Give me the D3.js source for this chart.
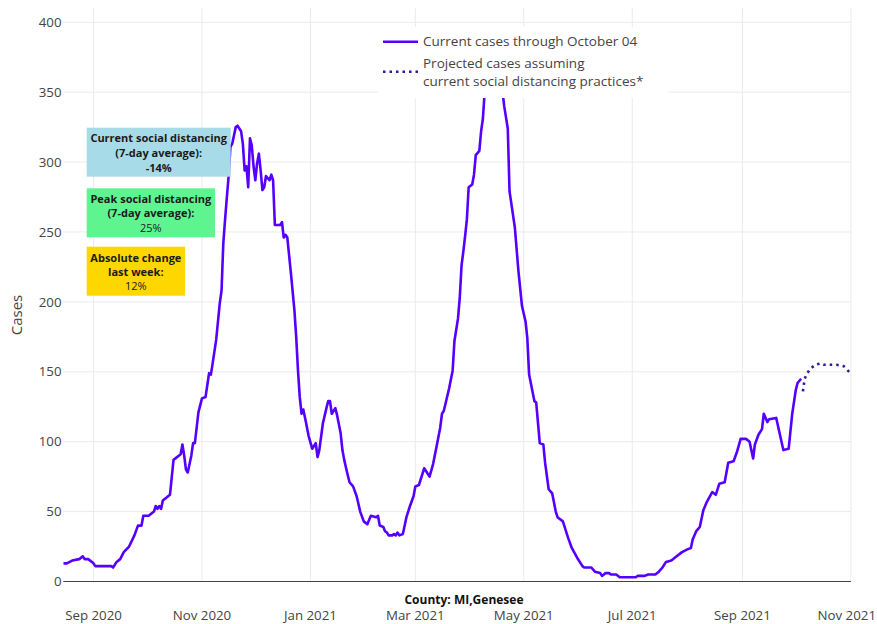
<!DOCTYPE html>
<html><head><meta charset="utf-8">
<script src="https://cdn.jsdelivr.net/npm/d3@7"></script>
<style>
body{margin:0;background:#fff;}
svg{display:block;font-family:"Open Sans",sans-serif;}
</style>
</head><body>
<svg id="chart" width="877" height="624"></svg>
<script>
// ---- data ----
const dates = ["2020-08-15","2020-08-17","2020-08-20","2020-08-24","2020-08-26","2020-08-27","2020-08-29","2020-09-01","2020-09-02","2020-09-11","2020-09-12","2020-09-14","2020-09-16","2020-09-18","2020-09-21","2020-09-24","2020-09-26","2020-09-28","2020-09-29","2020-10-02","2020-10-05","2020-10-06","2020-10-07","2020-10-08","2020-10-09","2020-10-10","2020-10-14","2020-10-16","2020-10-20","2020-10-21","2020-10-22","2020-10-23","2020-10-24","2020-10-26","2020-10-27","2020-10-28","2020-10-30","2020-11-01","2020-11-03","2020-11-05","2020-11-06","2020-11-07","2020-11-09","2020-11-11","2020-11-12","2020-11-13","2020-11-14","2020-11-15","2020-11-16","2020-11-17","2020-11-18","2020-11-20","2020-11-21","2020-11-23","2020-11-24","2020-11-25","2020-11-26","2020-11-27","2020-11-28","2020-11-29","2020-11-30","2020-12-01","2020-12-02","2020-12-03","2020-12-04","2020-12-05","2020-12-06","2020-12-07","2020-12-09","2020-12-10","2020-12-11","2020-12-12","2020-12-15","2020-12-16","2020-12-17","2020-12-18","2020-12-19","2020-12-21","2020-12-23","2020-12-24","2020-12-25","2020-12-26","2020-12-27","2020-12-28","2020-12-29","2020-12-31","2021-01-02","2021-01-04","2021-01-05","2021-01-06","2021-01-08","2021-01-10","2021-01-11","2021-01-12","2021-01-13","2021-01-15","2021-01-16","2021-01-18","2021-01-19","2021-01-20","2021-01-22","2021-01-23","2021-01-25","2021-01-27","2021-01-29","2021-01-31","2021-02-02","2021-02-04","2021-02-07","2021-02-08","2021-02-09","2021-02-11","2021-02-12","2021-02-13","2021-02-14","2021-02-16","2021-02-17","2021-02-18","2021-02-19","2021-02-20","2021-02-22","2021-02-24","2021-02-26","2021-02-28","2021-03-01","2021-03-03","2021-03-06","2021-03-07","2021-03-09","2021-03-11","2021-03-13","2021-03-15","2021-03-16","2021-03-17","2021-03-20","2021-03-22","2021-03-23","2021-03-25","2021-03-26","2021-03-27","2021-03-28","2021-03-29","2021-03-30","2021-03-31","2021-04-02","2021-04-03","2021-04-04","2021-04-06","2021-04-07","2021-04-08","2021-04-09","2021-04-10","2021-04-12","2021-04-14","2021-04-16","2021-04-18","2021-04-20","2021-04-22","2021-04-23","2021-04-26","2021-04-28","2021-04-30","2021-05-02","2021-05-03","2021-05-04","2021-05-07","2021-05-08","2021-05-10","2021-05-12","2021-05-13","2021-05-15","2021-05-17","2021-05-19","2021-05-20","2021-05-23","2021-05-25","2021-05-26","2021-05-28","2021-05-31","2021-06-03","2021-06-04","2021-06-08","2021-06-10","2021-06-13","2021-06-14","2021-06-16","2021-06-18","2021-06-19","2021-06-22","2021-06-24","2021-07-03","2021-07-04","2021-07-08","2021-07-10","2021-07-14","2021-07-16","2021-07-18","2021-07-20","2021-07-23","2021-07-26","2021-07-29","2021-08-01","2021-08-03","2021-08-04","2021-08-06","2021-08-08","2021-08-10","2021-08-12","2021-08-15","2021-08-17","2021-08-19","2021-08-22","2021-08-24","2021-08-27","2021-08-29","2021-08-31","2021-09-03","2021-09-05","2021-09-07","2021-09-08","2021-09-10","2021-09-12","2021-09-13","2021-09-15","2021-09-16","2021-09-20","2021-09-24","2021-09-27","2021-09-29","2021-10-01","2021-10-02","2021-10-04"];
const cases = [13,13,15,16,18,16,16,13,11,11,10,14,16,21,25,33,40,40,47,47,50,54,52,54,52,58,62,87,91,98,90,80,78,90,99,99,121,131,132,149,148,156,173,199,208,242,259,275,290,311,313,325,326,322,313,294,297,282,317,312,297,287,299,306,294,280,282,290,287,291,287,255,255,257,246,248,246,221,194,175,151,132,120,123,117,104,95,99,89,94,113,124,129,129,120,124,119,106,94,87,76,71,68,61,50,43,41,47,46,47,40,39,36,35,33,33,34,33,35,33,34,46,54,61,68,69,81,79,75,84,97,110,120,122,138,151,172,188,203,226,236,247,259,282,284,291,305,308,322,331,350,366,380,386,378,362,340,324,279,253,222,197,186,174,148,129,128,99,98,85,66,63,50,46,43,35,31,24,17,11,10,10,7,6,4,6,6,5,5,3,3,4,4,5,5,7,10,14,15,18,21,23,24,30,36,39,51,57,64,62,70,71,85,86,93,102,102,100,88,98,105,109,120,114,116,117,94,95,120,137,142,145];
const projDates = ["2021-10-05","2021-10-06","2021-10-07","2021-10-09","2021-10-12","2021-10-15","2021-10-17","2021-10-20","2021-10-24","2021-10-28","2021-10-31"];
const projCases = [136,145,148,152,155,156,155,155,155,154,150];
const xTickDates = ["2020-09-01","2020-11-01","2021-01-01","2021-03-01","2021-05-01","2021-07-01","2021-09-01","2021-11-01"];
const xTickLabels = ["Sep 2020","Nov 2020","Jan 2021","Mar 2021","May 2021","Jul 2021","Sep 2021","Nov 2021"];
const yTicks = [0,50,100,150,200,250,300,350,400];
const legendLabels = [["Current cases through October 04"],["Projected cases assuming","current social distancing practices*"]];
const boxLines = [
  [["Current social distancing",true],["(7-day average):",true],["-14%",true]],
  [["Peak social distancing",true],["(7-day average):",true],["25%",false]],
  [["Absolute change",true],["last week:",true],["12%",false]]
];
const boxColors = ["#a8dbe8","#5ef590","#ffd700"];
const countyLabel = "County: MI,Genesee";
const yTitle = "Cases";

// ---- drawing ----
const parse = d3.utcParse("%Y-%m-%d");
const svg = d3.select("#chart");
const L = 63.3, R = 850.9, T = 8, B = 581.5;
const x = d3.scaleUtc().domain([parse("2020-08-15"), parse("2021-11-01")]).range([L, R]);
const y = d3.scaleLinear().domain([0, 410.2]).range([B, T]);

const grid = svg.append("g");
grid.selectAll(".hg").data(yTicks.filter(v => v > 0)).join("line")
  .attr("x1", L).attr("x2", R).attr("y1", d => y(d)).attr("y2", d => y(d))
  .attr("stroke", "#ebebeb").attr("stroke-width", 1);
grid.selectAll(".vg").data(xTickDates).join("line")
  .attr("x1", d => x(parse(d))).attr("x2", d => x(parse(d))).attr("y1", T).attr("y2", B)
  .attr("stroke", "#ebebeb").attr("stroke-width", 1);

// y tick labels
svg.append("g").selectAll("text").data(yTicks).join("text")
  .attr("x", 61.5).attr("y", d => y(d)).attr("dy", "0.35em")
  .attr("text-anchor", "end").attr("font-size", "13.3px").attr("fill", "#444")
  .text(d => d);
// x tick labels (last one kept inside the page edge)
svg.append("g").selectAll("text").data(xTickDates).join("text")
  .attr("x", (d, i) => i === xTickDates.length - 1 ? 876 : x(parse(d)))
  .attr("y", 615).attr("dy", "0.35em")
  .attr("text-anchor", (d, i) => i === xTickDates.length - 1 ? "end" : "middle")
  .attr("font-size", "13.3px").attr("fill", "#444")
  .text((d, i) => xTickLabels[i]);

svg.append("defs").append("clipPath").attr("id", "clip")
  .append("rect").attr("x", L).attr("y", T).attr("width", R - L).attr("height", B - T);

const line = d3.line().x(d => x(d[0])).y(d => y(d[1]));
const series = dates.map((d, i) => [parse(d), cases[i]]);
const proj = projDates.map((d, i) => [parse(d), projCases[i]]);

const plot = svg.append("g").attr("clip-path", "url(#clip)");
plot.append("path").datum(series).attr("d", line)
  .attr("fill", "none").attr("stroke", "#5500ff").attr("stroke-width", 2.6)
  .attr("stroke-linejoin", "round");
plot.append("path").datum(proj).attr("d", line)
  .attr("fill", "none").attr("stroke", "#2e1a9a").attr("stroke-width", 2.6)
  .attr("stroke-dasharray", "2.5,4");

// zero line
svg.append("line").attr("x1", L).attr("x2", R).attr("y1", y(0)).attr("y2", y(0))
  .attr("stroke", "#444").attr("stroke-width", 1.2);

// y title
svg.append("text").attr("transform", "translate(17,315) rotate(-90)")
  .attr("text-anchor", "middle").attr("dy", "0.35em")
  .attr("font-size", "15px").attr("fill", "#444").text(yTitle);

// county label
svg.append("text").attr("x", 464).attr("y", 599.5).attr("dy", "0.35em")
  .attr("text-anchor", "middle").attr("font-size", "12px").attr("font-weight", "bold")
  .attr("fill", "#111").text(countyLabel);

// legend
const lg = svg.append("g");
lg.append("rect").attr("x", 378).attr("y", 27).attr("width", 290).attr("height", 71).attr("fill", "#fff");
lg.append("line").attr("x1", 383).attr("x2", 418).attr("y1", 41.7).attr("y2", 41.7)
  .attr("stroke", "#5500ff").attr("stroke-width", 2.6);
lg.append("line").attr("x1", 383).attr("x2", 418).attr("y1", 71.7).attr("y2", 71.7)
  .attr("stroke", "#2e1a9a").attr("stroke-width", 2.6).attr("stroke-dasharray", "2.5,4");
const legendY = [[41.7],[63.3, 81.7]];
legendLabels.forEach((lines, i) => {
  lines.forEach((t, j) => {
    lg.append("text").attr("x", 423).attr("y", legendY[i][j]).attr("dy", "0.35em")
      .attr("font-size", "13.5px").attr("fill", "#444").text(t);
  });
});

// annotation boxes
const boxGeom = [
  {x: 86.7, y: 127.7, w: 144, h: 49, ly: [138.3, 153.3, 167.7]},
  {x: 86.7, y: 188.3, w: 128.3, h: 49, ly: [199, 213.5, 228.3]},
  {x: 86.7, y: 246.7, w: 98.3, h: 49, ly: [257.7, 271.9, 286]}
];
boxLines.forEach((lines, i) => {
  const g = boxGeom[i];
  svg.append("rect").attr("x", g.x).attr("y", g.y).attr("width", g.w).attr("height", g.h)
    .attr("fill", boxColors[i]);
  lines.forEach((ln, j) => {
    svg.append("text").attr("x", g.x + g.w / 2).attr("y", g.ly[j]).attr("dy", "0.35em")
      .attr("text-anchor", "middle").attr("font-size", "11px")
      .attr("font-weight", ln[1] ? "bold" : "normal").attr("fill", "#1a1a1a").text(ln[0]);
  });
});
</script>
</body></html>
